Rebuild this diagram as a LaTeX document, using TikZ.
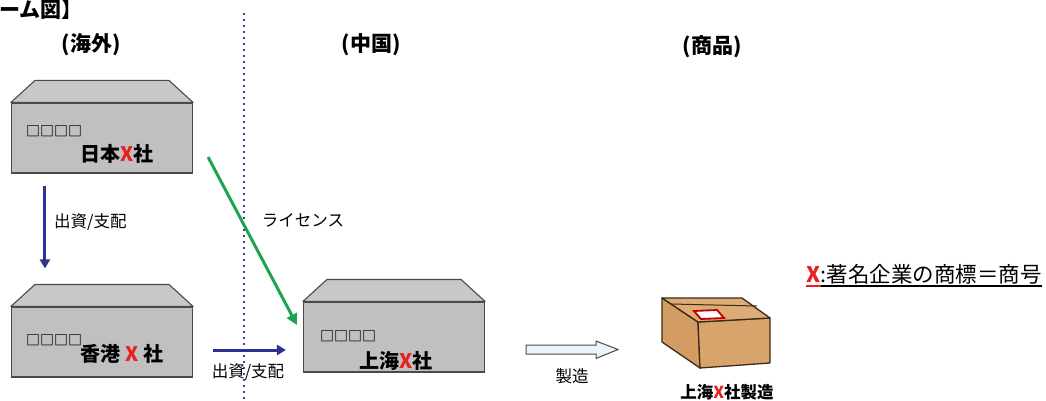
\documentclass[tikz,border=0pt]{standalone}
\usepackage{fontspec}
\newfontfamily\jp{Noto Sans CJK JP}
\usetikzlibrary{arrows.meta,calc}
\definecolor{navy}{HTML}{2E3192}
\definecolor{dots}{HTML}{3F3FA0}
\definecolor{lic}{HTML}{1FA352}
\definecolor{bldg}{HTML}{C0C0C0}
\definecolor{roof}{HTML}{C8C8C8}
\definecolor{edge}{HTML}{4A4A4A}
\definecolor{xred}{HTML}{E8201E}
\definecolor{cardF}{HTML}{D9A46B}
\definecolor{cardL}{HTML}{D29C62}
\definecolor{cardT}{HTML}{DDAC76}
\definecolor{cardE}{HTML}{3E2A18}
\definecolor{pale}{HTML}{EAF5F8}
\tikzset{
  body/.style={rectangle, draw=edge, fill=bldg, line width=1.1pt,
    minimum width=181pt, minimum height=70pt, inner sep=0pt},
  rooftop/.style={draw=edge, fill=roof, line width=1.1pt, line join=round},
  hdr/.style={font=\jp\bfseries\fontsize{21}{24}\selectfont, inner sep=0pt},
  coname/.style={font=\jp\bfseries\fontsize{20}{24}\selectfont, inner sep=0pt, anchor=west},
  tofu/.style={font=\jp\bfseries\fontsize{14}{16}\selectfont, inner sep=0pt, anchor=west},
  lbl/.style={font=\jp\fontsize{16.5}{19}\selectfont, inner sep=0pt},
  ctrl/.style={draw=navy, line width=3pt, -{Triangle[length=9pt,width=10pt]}},
  licarrow/.style={draw=lic, line width=3pt, -{Triangle[length=11pt,width=11pt]}},
  divider/.style={draw=dots, line width=2.4pt, dash pattern=on 2.2pt off 3.8pt},
  blockarrow/.style={draw=edge, fill=pale, line width=1pt, line join=miter},
}
\newcommand{\xr}{\textcolor{xred}{X}}
\begin{document}
\begin{tikzpicture}[x=1pt,y=-1pt]
\useasboundingbox (0,0) rectangle (1046,401);

% title fragment
\node[font=\jp\bfseries\fontsize{21}{25}\selectfont, inner sep=0pt, anchor=base west] (title) at (-1,18) {ーム図】};

% column headings
\node[hdr] (hov) at (91,45) {(海外)};
\node[hdr] (hcn) at (371,45) {(中国)};
\node[hdr] (hpr) at (712,47) {(商品)};

% border between overseas and China
\coordinate (divtop) at (244,13);
\coordinate (divbot) at (244,401);
\draw[divider] (divtop) -- (divbot);

% company buildings
\node[body] (jp) at (102,138) {};
\node[body] (hk) at (102,342) {};
\node[body] (sh) at (394,337) {};
\foreach \b in {jp,hk,sh}{
  \draw[rooftop] (\b.north west) -- ++(24,-22) -- ($(\b.north east)+(-24,-22)$) -- (\b.north east) -- cycle;
}

\node[tofu] (jpt) at (26,131) {□□□□};
\node[coname] (jpn) at (80,154) {日本\xr 社};
\node[tofu] (hkt) at (26,340) {□□□□};
\node[coname] (hkn) at (80,354) {香港\hspace{5pt}\xr\hspace{5pt}社};
\node[tofu] (sht) at (320,336) {□□□□};
\node[coname] (shn) at (359,361) {上海\xr 社};

% capital / control
\draw[ctrl] ([shift={(34,12)}]jp.south west) -- ([shift={(34,-38)}]hk.north west);
\node[lbl, anchor=west] (c1) at (54,222) {出資/支配};
\draw[ctrl] ([shift={(20,8)}]hk.east) -- ([shift={(-17,13)}]sh.west);
\node[lbl] (c2) at (248,372) {出資/支配};

% licence
\draw[licarrow] ([shift={(15,19)}]jp.east) -- ([shift={(-6,-12)}]sh.west);
\node[lbl] (lic) at (303,220) {ライセンス};

% manufacture
\coordinate (mfgtail) at (526,349.5);
\draw[blockarrow] (mfgtail) ++(0,-4.5) -- ++(70,0) -- ++(0,-4) -- (618,349.5)
  -- (596,358.5) -- ++(0,-4.5) -- (526,354) -- cycle;
\node[lbl] (mfgl) at (572,376) {製造};

% product carton
\begin{scope}[draw=cardE, line width=1.3pt, line join=round]
  \filldraw[fill=cardL] (662,298) -- (698,322) -- (700,368) -- (662,342) -- cycle;
  \filldraw[fill=cardF] (698,322) -- (770,318) -- (770,363) -- (700,368) -- cycle;
  \filldraw[fill=cardT] (662,298) -- (742,298) -- (770,318) -- (698,322) -- cycle;
  \draw[line width=1pt] (671,304) -- (757,306);
\end{scope}
\filldraw[draw=red!75!black, fill=white, line width=1.8pt] (694,311) -- (717,310) -- (724,318) -- (701,319) -- cycle;
\node[font=\jp\bfseries\fontsize{16.5}{19}\selectfont, inner sep=0pt] (prod) at (727,392) {上海\xr 社製造};

% legend
\node[font=\jp\bfseries\fontsize{21.5}{25}\selectfont, inner sep=0pt, anchor=base west, text=xred] (legx) at (806,282) {X};
\node[font=\jp\fontsize{21.5}{25}\selectfont, inner sep=0pt, anchor=base west] (legt) at (legx.base east) {:著名企業の商標＝商号};
\draw[xred, line width=1.4pt] ([yshift=-4pt]legx.base west) -- ([yshift=-4pt]legx.base east);
\draw[black, line width=1.4pt] ([yshift=-4pt]legt.base west) -- ([yshift=-4pt]legt.base east);
\end{tikzpicture}
\end{document}
